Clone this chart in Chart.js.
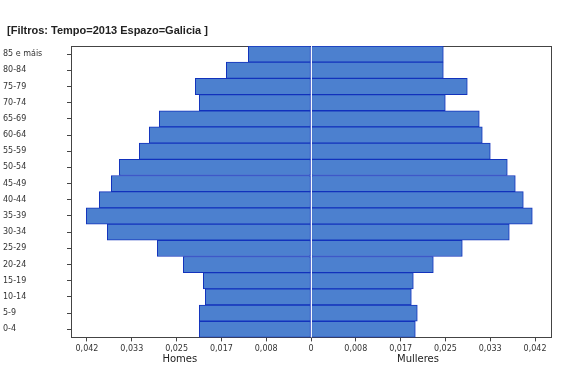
<!DOCTYPE html>
<html>
<head>
<meta charset="utf-8">
<script src="https://cdn.jsdelivr.net/npm/chart.js@4"></script>
<style>
  body { margin: 0; background: #fff; }
  #wrap { position: relative; width: 574px; height: 376px; overflow: hidden; }
  #pyramid { position: absolute; left: 0; top: 0; }
  #title { position: absolute; left: 7px; top: 24px; font: bold 11px "Liberation Sans", sans-serif; color: #222; z-index: 2; }
</style>
</head>
<body>
<div id="wrap">
  <canvas id="pyramid" width="574" height="376"></canvas>
  <div id="title">[Filtros: Tempo=2013 Espazo=Galicia ]</div>
</div>
<script>
const ageGroups = ["85 e máis", "80-84", "75-79", "70-74", "65-69", "60-64", "55-59", "50-54", "45-49",
  "40-44", "35-39", "30-34", "25-29", "20-24", "15-19", "10-14", "5-9", "0-4"];
const homes = [0.01166, 0.01575, 0.02152, 0.02078, 0.02822, 0.03008, 0.03194, 0.03566, 0.03714,
  0.03938, 0.04180, 0.03789, 0.02859, 0.02375, 0.02003, 0.01966, 0.02078, 0.02078];
const mulleres = [0.02461, 0.02461, 0.02907, 0.02498, 0.03130, 0.03186, 0.03335, 0.03651, 0.03800,
  0.03949, 0.04116, 0.03688, 0.02814, 0.02275, 0.01903, 0.01866, 0.01977, 0.01940];
const sideLabels = ["Homes", "Mulleres"];
const axisLimit = 0.04464;
const tickStep = 1 / 120;

// white divider at zero + side captions (Homes / Mulleres)
const pyramidExtras = {
  id: "pyramidExtras",
  afterDatasetsDraw(chart) {
    const ctx = chart.ctx;
    const x = chart.scales.x;
    const area = chart.chartArea;
    const zx = Math.round(x.getPixelForValue(0)) + 0.5;
    ctx.save();
    ctx.strokeStyle = "#f4f8fd";
    ctx.lineWidth = 1;
    ctx.beginPath();
    ctx.moveTo(zx, area.top);
    ctx.lineTo(zx, area.bottom);
    ctx.stroke();
    ctx.restore();
  },
  afterDraw(chart) {
    const ctx = chart.ctx;
    const x = chart.scales.x;
    ctx.save();
    ctx.font = "10px 'DejaVu Sans', sans-serif";
    ctx.fillStyle = "#222";
    ctx.textAlign = "center";
    ctx.textBaseline = "middle";
    ctx.fillText(sideLabels[0], x.getPixelForValue(-0.0244), 359);
    ctx.fillText(sideLabels[1], x.getPixelForValue(0.0199), 359);
    ctx.restore();
  }
};

new Chart(document.getElementById("pyramid"), {
  type: "bar",
  data: {
    labels: ageGroups,
    datasets: [
      {
        label: sideLabels[0],
        data: homes.map(v => -v),
        backgroundColor: "#4c80cf",
        borderColor: "#1232bc",
        borderWidth: 1,
        borderSkipped: false,
        barPercentage: 1,
        categoryPercentage: 1
      },
      {
        label: sideLabels[1],
        data: mulleres,
        backgroundColor: "#4c80cf",
        borderColor: "#1232bc",
        borderWidth: 1,
        borderSkipped: false,
        barPercentage: 1,
        categoryPercentage: 1
      }
    ]
  },
  options: {
    indexAxis: "y",
    responsive: false,
    animation: false,
    layout: { padding: { left: 3, right: 15, top: 38, bottom: 19 } },
    plugins: {
      legend: { display: false },
      tooltip: { enabled: false }
    },
    scales: {
      x: {
        stacked: true,
        min: -axisLimit,
        max: axisLimit,
        border: { display: true, color: "#444", width: 1 },
        grid: {
          drawOnChartArea: false,
          tickColor: "#444",
          tickLength: 4
        },
        ticks: {
          stepSize: tickStep,
          includeBounds: false,
          font: { family: "DejaVu Sans", size: 8 },
          color: "#333",
          padding: 3,
          callback: v => {
            const a = Math.abs(v);
            if (a < 1e-9) return "0";
            return a.toFixed(3).replace(".", ",");
          }
        }
      },
      y: {
        stacked: true,
        afterFit: s => { s.width = 68; },
        border: { display: true, color: "#444", width: 1 },
        grid: { offset: false, drawOnChartArea: false, tickColor: "#444", tickLength: 4 },
        ticks: {
          crossAlign: "far",
          font: { family: "DejaVu Sans", size: 8 },
          color: "#333",
          padding: 4
        }
      },
      xTop: {
        position: "top",
        display: true,
        min: -axisLimit,
        max: axisLimit,
        border: { display: true, color: "#444", width: 1 },
        grid: { display: false },
        ticks: { display: false }
      },
      yRight: {
        position: "right",
        display: true,
        border: { display: true, color: "#444", width: 1 },
        grid: { display: false },
        ticks: { display: false }
      }
    }
  },
  plugins: [pyramidExtras]
});
</script>
</body>
</html>
